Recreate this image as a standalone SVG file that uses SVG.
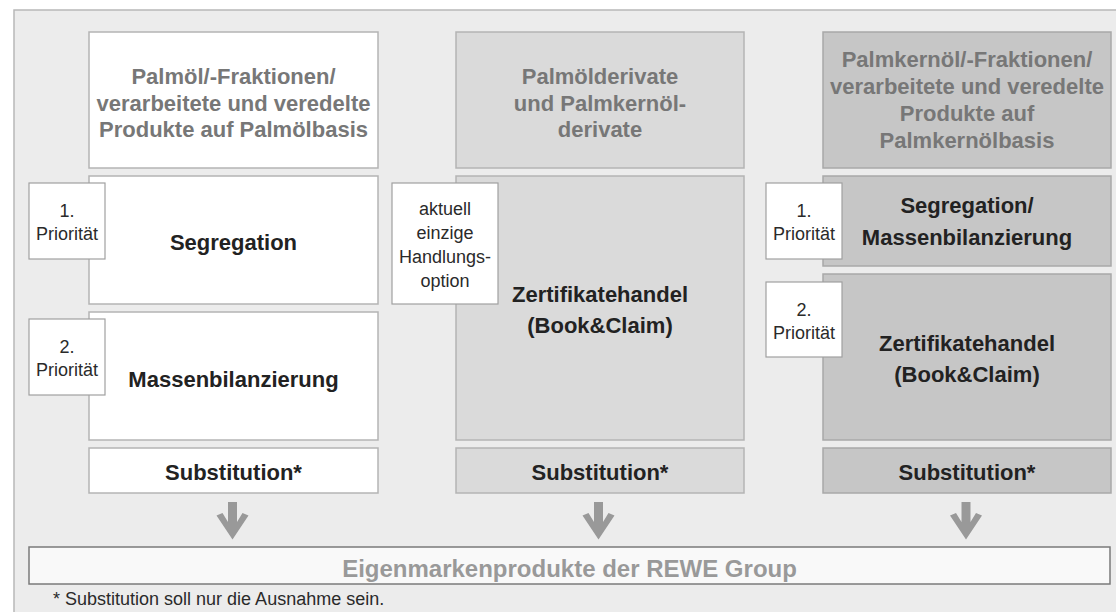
<svg xmlns="http://www.w3.org/2000/svg" width="1116" height="612" viewBox="0 0 1116 612">
<defs>
<style>
.frame{fill:#ececec;stroke:#b8b8b8;stroke-width:1.5}
.b1{fill:#ffffff;stroke:#b4b4b4;stroke-width:1.5}
.b2{fill:#dadada;stroke:#b4b4b4;stroke-width:1.5}
.b3{fill:#c6c6c6;stroke:#a8a8a8;stroke-width:1.5}
.side{fill:#ffffff;stroke:#a0a0a0;stroke-width:1.2}
.bar{fill:#f9f9f9;stroke:#7a7a7a;stroke-width:1.5}
.head{font-family:"Liberation Sans",Arial,sans-serif;font-weight:bold;font-size:22px;fill:#777777;text-anchor:middle}
.lbl{font-family:"Liberation Sans",Arial,sans-serif;font-weight:bold;font-size:22px;fill:#222222;text-anchor:middle}
.sm{font-family:"Liberation Sans",Arial,sans-serif;font-size:18px;fill:#2a2a2a;text-anchor:middle}
.bart{font-family:"Liberation Sans",Arial,sans-serif;font-weight:bold;font-size:24px;fill:#999999;text-anchor:middle}
.foot{font-family:"Liberation Sans",Arial,sans-serif;font-size:18px;fill:#2a2a2a}
.arr{fill:#999999}
</style>
</defs>
<rect class="frame" x="14" y="10" width="1112" height="612"/>

<g id="col1">
<g id="c1-head"><rect class="b1" x="89" y="32" width="289" height="136"/>
<text class="head" x="233.5" y="84">Palmöl/-Fraktionen/</text>
<text class="head" x="233.5" y="110.5">verarbeitete und veredelte</text>
<text class="head" x="233.5" y="137">Produkte auf Palmölbasis</text></g>
<g id="c1-seg"><rect class="b1" x="89" y="176" width="289" height="128"/>
<text class="lbl" x="233.5" y="250">Segregation</text></g>
<g id="c1-mass"><rect class="b1" x="89" y="312" width="289" height="128"/>
<text class="lbl" x="233.5" y="387">Massenbilanzierung</text></g>
<g id="c1-sub"><rect class="b1" x="89" y="448" width="289" height="45"/>
<text class="lbl" x="233.5" y="480">Substitution*</text></g>
<g id="c1-p1"><rect class="side" x="29" y="183" width="76" height="76"/>
<text class="sm" x="67" y="217">1.</text><text class="sm" x="67" y="240">Priorität</text></g>
<g id="c1-p2"><rect class="side" x="29" y="319" width="76" height="76"/>
<text class="sm" x="67" y="353">2.</text><text class="sm" x="67" y="376">Priorität</text></g>
</g>

<g id="col2">
<g id="c2-head"><rect class="b2" x="456" y="32" width="288" height="136"/>
<text class="head" x="600" y="84">Palmölderivate</text>
<text class="head" x="600" y="110.5">und Palmkernöl-</text>
<text class="head" x="600" y="137">derivate</text></g>
<g id="c2-zert"><rect class="b2" x="456" y="176" width="288" height="264"/>
<text class="lbl" x="600" y="302">Zertifikatehandel</text>
<text class="lbl" x="600" y="333">(Book&amp;Claim)</text></g>
<g id="c2-sub"><rect class="b2" x="456" y="448" width="288" height="45"/>
<text class="lbl" x="600" y="480">Substitution*</text></g>
<g id="c2-opt"><rect class="side" x="392" y="183" width="106" height="121"/>
<text class="sm" x="445" y="215">aktuell</text>
<text class="sm" x="445" y="239">einzige</text>
<text class="sm" x="445" y="263">Handlungs-</text>
<text class="sm" x="445" y="287">option</text></g>
</g>

<g id="col3">
<g id="c3-head"><rect class="b3" x="823" y="32" width="288" height="136"/>
<text class="head" x="967" y="67">Palmkernöl/-Fraktionen/</text>
<text class="head" x="967" y="94">verarbeitete und veredelte</text>
<text class="head" x="967" y="121">Produkte auf</text>
<text class="head" x="967" y="148">Palmkernölbasis</text></g>
<g id="c3-seg"><rect class="b3" x="823" y="176" width="288" height="90"/>
<text class="lbl" x="967" y="213">Segregation/</text>
<text class="lbl" x="967" y="245">Massenbilanzierung</text></g>
<g id="c3-zert"><rect class="b3" x="823" y="274" width="288" height="166"/>
<text class="lbl" x="967" y="351">Zertifikatehandel</text>
<text class="lbl" x="967" y="382">(Book&amp;Claim)</text></g>
<g id="c3-sub"><rect class="b3" x="823" y="448" width="288" height="45"/>
<text class="lbl" x="967" y="480">Substitution*</text></g>
<g id="c3-p1"><rect class="side" x="766" y="183" width="76" height="76"/>
<text class="sm" x="804" y="217">1.</text><text class="sm" x="804" y="240">Priorität</text></g>
<g id="c3-p2"><rect class="side" x="766" y="282" width="76" height="75"/>
<text class="sm" x="804" y="316">2.</text><text class="sm" x="804" y="339">Priorität</text></g>
</g>

<g id="connectors">
<polygon class="arr" transform="translate(232.5,0)" points="-4.5,502 4.5,502 4.5,522 10,513 16,515.5 0,539.5 -16,515.5 -10,513 -4.5,522"/>
<polygon class="arr" transform="translate(598.5,0)" points="-4.5,502 4.5,502 4.5,522 10,513 16,515.5 0,539.5 -16,515.5 -10,513 -4.5,522"/>
<polygon class="arr" transform="translate(966,0)" points="-4.5,502 4.5,502 4.5,522 10,513 16,515.5 0,539.5 -16,515.5 -10,513 -4.5,522"/>
</g>

<g id="target"><rect class="bar" x="29" y="547" width="1081" height="37"/>
<text class="bart" x="569.5" y="577">Eigenmarkenprodukte der REWE Group</text></g>

<text class="foot" x="53" y="605">* Substitution soll nur die Ausnahme sein.</text>
</svg>
